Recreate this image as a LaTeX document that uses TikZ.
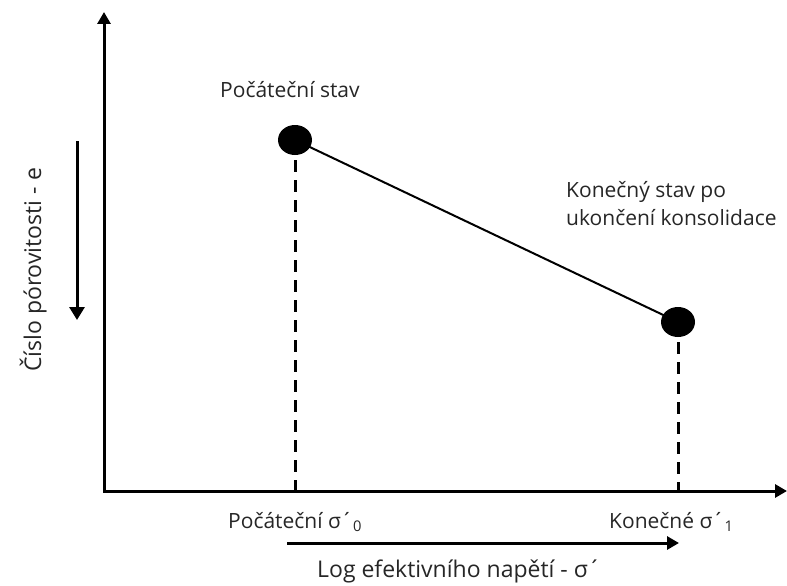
\documentclass[tikz,border=0pt]{standalone}
\usepackage{fontspec}
\setmainfont{Open Sans}
\usetikzlibrary{arrows.meta, shapes.geometric}

\tikzset{
    axis/.style={line width=3pt, -{Triangle[width=13pt,length=12pt]}},
    dot/.style={ellipse, fill=black, minimum width=34pt, minimum height=30pt, inner sep=0pt},
    guide/.style={line width=3pt, dash pattern=on 12pt off 8pt},
    lbl/.style={font=\fontsize{21}{28}\selectfont, text=black!85, inner sep=0pt},
    biglbl/.style={font=\fontsize{23}{26}\selectfont, text=black!85, inner sep=0pt}
}

\begin{document}
\begin{tikzpicture}[x=1pt, y=-1pt]
    \useasboundingbox (0,0) rectangle (787,586);

    % Axes
    \coordinate (O) at (104,491);
    \coordinate (ytip) at (104,12);
    \coordinate (xtip) at (787,491);
    \draw[axis, line cap=rect] (O) -- (ytip);
    \draw[axis] (O) -- (xtip);

    % States
    \node[dot] (p0) at (295,140) {};
    \node[dot] (p1) at (678,322) {};
    \draw[line width=2pt] (p0.center) -- (p1.center);
    \draw[guide] (p0.center) -- (p0.center |- O);
    \draw[guide] (p1.center) -- (p1.center |- O);

    \node[lbl, anchor=base west] (start) at (220,97) {Počáteční stav};
    \node[lbl, anchor=base west, align=left] (end) at (566,225) {Konečný stav po\\ukončení konsolidace};

    % Labels on the x axis
    \node[lbl, anchor=base west] (s0) at (228,528) {Počáteční σ´\textsubscript{0}};
    \node[lbl, anchor=base west] (s1) at (609,528) {Konečné σ´\textsubscript{1}};
    \coordinate (xa) at (287,543);
    \coordinate (xb) at (679,543);
    \draw[line width=3pt, -{Triangle[width=13pt,length=12pt]}] (xa) -- (xb);
    \node[biglbl, anchor=base west] (xlabel) at (317,577) {Log efektivního napětí - σ´};

    % Label on the y axis
    \coordinate (ya) at (77,141);
    \coordinate (yb) at (77,320);
    \draw[line width=3pt, -{Triangle[width=15pt,length=13pt]}] (ya) -- (yb);
    \node[biglbl, anchor=base, rotate=90] (ylabel) at (41,270) {Číslo pórovitosti - e};
\end{tikzpicture}
\end{document}
